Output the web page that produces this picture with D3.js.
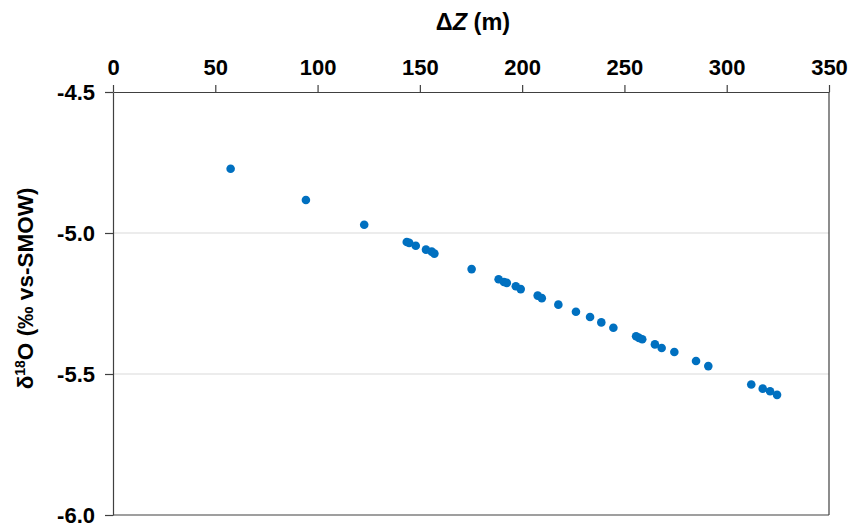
<!DOCTYPE html>
<html>
<head>
<meta charset="utf-8">
<script src="https://cdn.jsdelivr.net/npm/d3@7"></script>
<style>
  body { margin: 0; background: #fff; }
  text { font-family: "Liberation Sans", Arial, sans-serif; font-weight: bold; fill: #000; }
</style>
</head>
<body>
<div id="chart"></div>
<script>
// elevation difference (m) and d18O (permil vs SMOW)
var dz = [57.5, 94.3, 122.8, 143.6, 144.8, 148.0, 153.0, 155.8, 157.1, 175.3,
          188.5, 191.1, 192.5, 196.9, 199.3, 207.6, 209.6, 217.7, 226.3, 233.2,
          238.7, 244.6, 255.7, 257.1, 258.7, 264.9, 268.2, 274.4, 285.0, 291.0,
          312.0, 317.6, 321.2, 324.6];
var d18o = [-4.772, -4.883, -4.971, -5.032, -5.035, -5.045, -5.059, -5.066, -5.073, -5.128,
            -5.164, -5.174, -5.177, -5.189, -5.199, -5.222, -5.231, -5.254, -5.279, -5.298,
            -5.317, -5.336, -5.366, -5.372, -5.377, -5.395, -5.408, -5.422, -5.454, -5.472,
            -5.537, -5.552, -5.561, -5.574];
var xTicks = [0, 50, 100, 150, 200, 250, 300, 350];
var yTicks = [-4.5, -5.0, -5.5, -6.0];
var yGrid = [-5.0, -5.5];

var W = 862, H = 524;
var pLeft = 113, pRight = 829, pTop = 92, pBottom = 515;

var svg = d3.select("#chart").append("svg")
    .attr("width", W)
    .attr("height", H);

var x = d3.scaleLinear().domain([0, 350]).range([pLeft, pRight]);
var y = d3.scaleLinear().domain([-4.5, -6.0]).range([pTop, pBottom]);

// gridlines
svg.selectAll("line.grid")
    .data(yGrid)
    .enter().append("line")
    .attr("class", "grid")
    .attr("x1", pLeft).attr("x2", pRight)
    .attr("y1", d => y(d)).attr("y2", d => y(d))
    .attr("stroke", "#d9d9d9")
    .attr("stroke-width", 1.2);

// frame: right and bottom edges
svg.append("line")
    .attr("x1", pRight).attr("x2", pRight)
    .attr("y1", pTop).attr("y2", pBottom)
    .attr("stroke", "#404040").attr("stroke-width", 1.2);
svg.append("line")
    .attr("x1", pLeft).attr("x2", pRight)
    .attr("y1", pBottom).attr("y2", pBottom)
    .attr("stroke", "#404040").attr("stroke-width", 1.2);

var xAxis = svg.append("g")
    .attr("transform", "translate(0," + pTop + ")")
    .call(d3.axisTop(x).tickValues(xTicks).tickSize(7).tickPadding(10).tickSizeOuter(0));
var yAxis = svg.append("g")
    .attr("transform", "translate(" + pLeft + ",0)")
    .call(d3.axisLeft(y).tickValues(yTicks).tickSize(8).tickPadding(10).tickSizeOuter(0)
        .tickFormat(d3.format(".1f")));

[xAxis, yAxis].forEach(function(g) {
    g.select(".domain").attr("stroke", "#404040").attr("stroke-width", 1.2);
    g.selectAll(".tick line").attr("stroke", "#404040").attr("stroke-width", 1.2);
    g.selectAll(".tick text")
        .attr("font-family", "Liberation Sans, Arial, sans-serif")
        .attr("font-weight", "bold")
        .attr("font-size", 22)
        .attr("fill", "#000");
});
yAxis.selectAll(".tick text").text(d => d3.format(".1f")(d).replace("\u2212", "-"));

// points
svg.selectAll("circle.pt")
    .data(dz.map((d, i) => [d, d18o[i]]))
    .enter().append("circle")
    .attr("class", "pt")
    .attr("cx", d => x(d[0]))
    .attr("cy", d => y(d[1]))
    .attr("r", 4.3)
    .attr("fill", "#0070c0");

// x title
var xt = svg.append("text")
    .attr("x", (pLeft + pRight) / 2 + 2)
    .attr("y", 30)
    .attr("text-anchor", "middle")
    .attr("font-size", 23.5);
xt.append("tspan").text("\u0394");
xt.append("tspan").attr("font-style", "italic").text("Z");
xt.append("tspan").text(" (m)");

// y title
var yt = svg.append("text")
    .attr("transform", "translate(33," + ((pTop + pBottom) / 2 - 15) + ") rotate(-90)")
    .attr("text-anchor", "middle")
    .attr("font-size", 22.5);
yt.append("tspan").text("\u03b4");
yt.append("tspan").attr("font-size", 14).attr("dy", -8).text("18");
yt.append("tspan").attr("dy", 8).text("O (\u2030 vs-SMOW)");
</script>
</body>
</html>
